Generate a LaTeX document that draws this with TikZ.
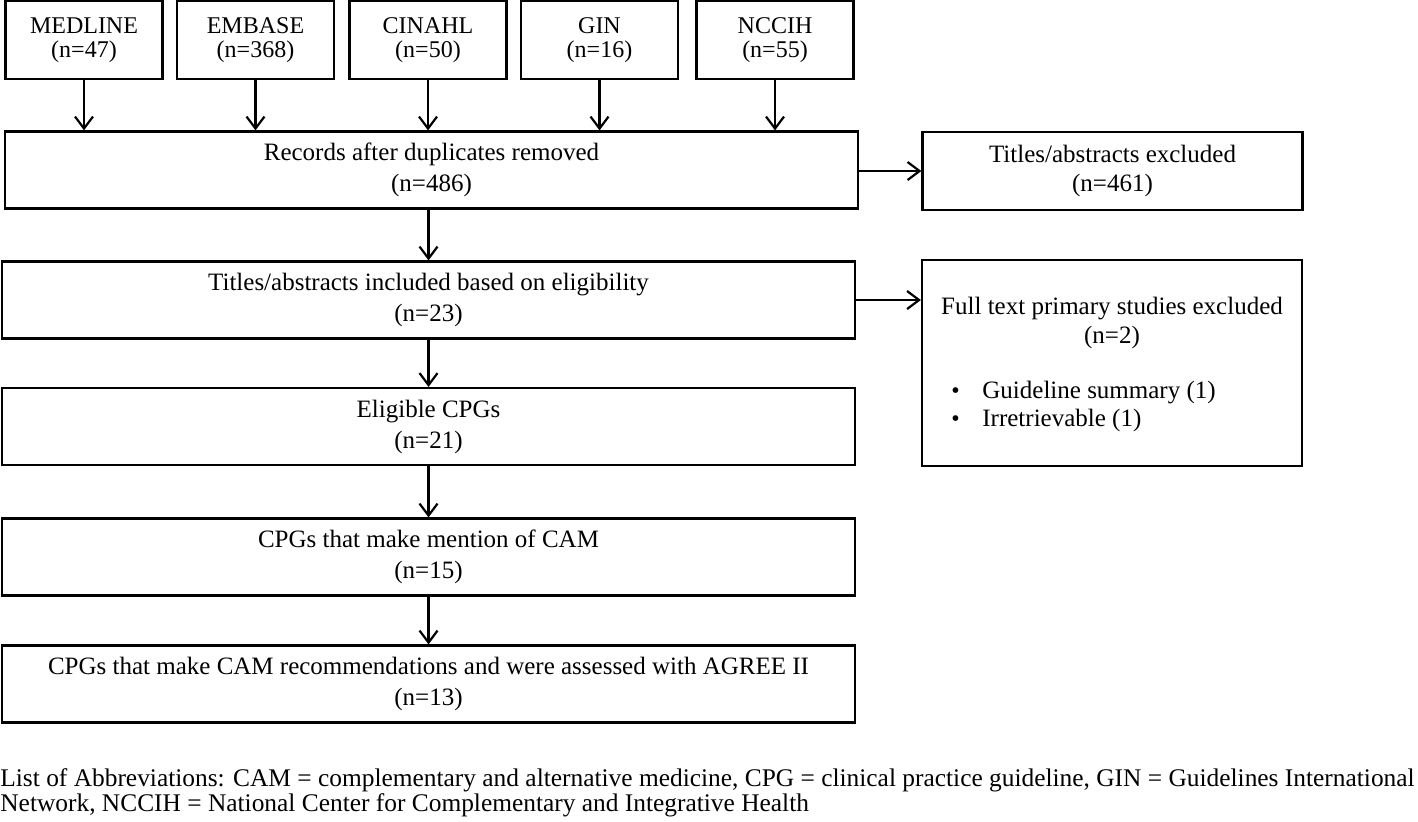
\documentclass[tikz,border=0pt]{standalone}
\usepackage{fontspec}
\setmainfont{Liberation Serif}
\usetikzlibrary{arrows.meta}

\tikzset{
  box/.style={draw, line width=1.1pt, inner sep=0pt, align=center, font=\fontsize{12.5}{15.5}\selectfont},
  srcbox/.style={box, minimum width=78.5pt, minimum height=39pt, font=\fontsize{12}{12}\selectfont},
  flowbox/.style={box, minimum width=426.5pt, minimum height=38.5pt},
  sidebox/.style={box, minimum width=190pt},
  arr/.style={-{Straight Barb[length=6pt,width=9pt]}, line width=1.1pt}
}

\begin{document}
\begin{tikzpicture}[x=0.5pt, y=-0.5pt]
\useasboundingbox (0,0) rectangle (1418,821);

\node[srcbox] (medline) at (84,40) {MEDLINE\\(n=47)};
\node[srcbox] (embase) at (255.5,40) {EMBASE\\(n=368)};
\node[srcbox] (cinahl) at (428,40) {CINAHL\\(n=50)};
\node[srcbox] (gin) at (599.5,40) {GIN\\(n=16)};
\node[srcbox] (nccih) at (775,40) {NCCIH\\(n=55)};

\node[flowbox] (records) at (431.5,170) {Records after duplicates removed\\(n=486)};
\node[flowbox] (titlesinc) at (428.5,300) {Titles/abstracts included based on eligibility\\(n=23)};
\node[flowbox] (eligible) at (428.5,426.5) {Eligible CPGs\\(n=21)};
\node[flowbox] (mention) at (428.5,557) {CPGs that make mention of CAM\\(n=15)};
\node[flowbox] (assessed) at (428.5,684) {CPGs that make CAM recommendations and were assessed with AGREE II\\(n=13)};

\node[sidebox, minimum height=39pt, font=\fontsize{12.5}{14.5}\selectfont] (titlesexc) at (1112.5,171) {Titles/abstracts excluded\\(n=461)};
\node[sidebox, minimum height=103pt] (fulltext) at (1112,363) {};
\node[align=center, inner sep=0pt, font=\fontsize{12.5}{14.5}\selectfont] (fthead) at (1112,323) {Full text primary studies excluded\\(n=2)};
\node[anchor=west, align=left, inner sep=0pt, font=\fontsize{12.5}{14}\selectfont] (ftlist) at (951,406)
  {\makebox[15.5pt][l]{\large\textbullet}Guideline summary (1)\\\makebox[15.5pt][l]{\large\textbullet}Irretrievable (1)};

\foreach \src in {medline, embase, cinahl, gin, nccih}
  \draw[arr] (\src.south) -- (\src |- records.north);

\draw[arr] (titlesinc |- records.south) -- (titlesinc.north);
\draw[arr] (titlesinc.south) -- (eligible.north);
\draw[arr] (eligible.south) -- (mention.north);
\draw[arr] (mention.south) -- (assessed.north);

\draw[arr] (records.east |- titlesexc.west) -- (titlesexc.west);
\draw[arr] (titlesinc.east) -- (titlesinc.east -| fulltext.west);

\node[anchor=north west, align=left, inner sep=0pt, font=\fontsize{12.7}{12.5}\selectfont] (abbrev) at (0,768)
  {List of Abbreviations: CAM = complementary and alternative medicine, CPG = clinical practice guideline, GIN = Guidelines International\\
   Network, NCCIH = National Center for Complementary and Integrative Health};
\end{tikzpicture}
\end{document}
